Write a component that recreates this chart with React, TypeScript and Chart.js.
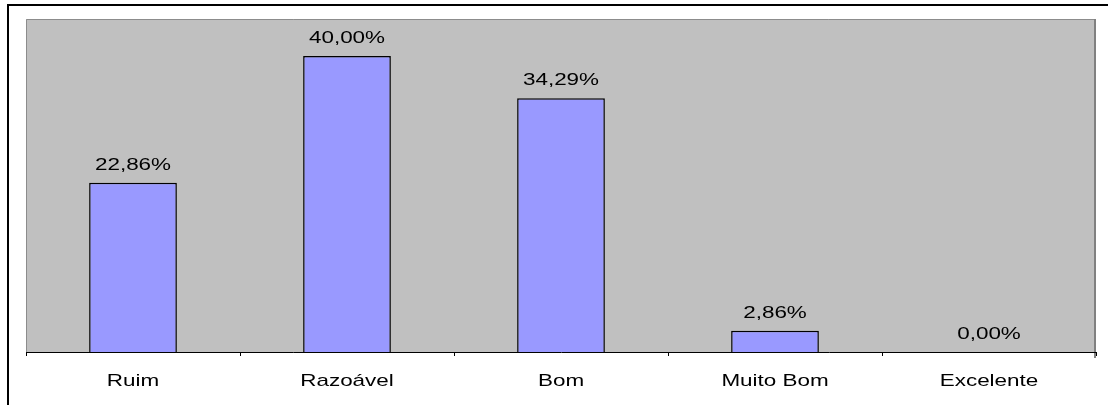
import React, { useEffect, useRef } from "react";
import { Chart, registerables } from "chart.js";

Chart.register(...registerables);

const categories = ["Ruim", "Razoável", "Bom", "Muito Bom", "Excelente"];
const percentages = [22.86, 40.0, 34.29, 2.86, 0.0];

const fmt = (v: number) => v.toFixed(2).replace(".", ",") + "%";

const FONT = "17px 'Liberation Sans', Arial, sans-serif";
const STRETCH = 1.32;

function stretchedText(ctx: CanvasRenderingContext2D, text: string, x: number, y: number) {
  ctx.save();
  ctx.translate(x, y);
  ctx.scale(STRETCH, 1);
  ctx.fillText(text, 0, 0);
  ctx.restore();
}

const framePlugin = {
  id: "frame",
  beforeDraw(chart: any) {
    const { ctx, chartArea } = chart;
    const { left, top, right, bottom } = chartArea;
    ctx.save();
    ctx.fillStyle = "#ffffff";
    ctx.fillRect(0, 0, chart.width, chart.height);
    // outer border
    ctx.strokeStyle = "#000000";
    ctx.lineWidth = 2;
    ctx.beginPath();
    ctx.moveTo(8, chart.height + 5);
    ctx.lineTo(8, 5);
    ctx.lineTo(chart.width + 5, 5);
    ctx.stroke();
    // plot background
    ctx.fillStyle = "#c0c0c0";
    ctx.fillRect(left, top, right - left, bottom - top);
    ctx.strokeStyle = "#8c8c8c";
    ctx.lineWidth = 1;
    ctx.beginPath();
    ctx.moveTo(left + 0.5, bottom);
    ctx.lineTo(left + 0.5, top + 0.5);
    ctx.lineTo(right - 0.5, top + 0.5);
    ctx.stroke();
    ctx.lineWidth = 2;
    ctx.strokeStyle = "#808080";
    ctx.beginPath();
    ctx.moveTo(right - 1, top);
    ctx.lineTo(right - 1, bottom + 6);
    ctx.stroke();
    ctx.restore();
  },
  afterDatasetsDraw(chart: any) {
    const { ctx } = chart;
    const meta = chart.getDatasetMeta(0);
    const data = chart.data.datasets[0].data as number[];
    ctx.save();
    ctx.fillStyle = "#000000";
    ctx.font = FONT;
    ctx.textAlign = "center";
    ctx.textBaseline = "alphabetic";
    meta.data.forEach((bar: any, i: number) => {
      stretchedText(ctx, fmt(data[i]), bar.x, bar.y - 13);
    });
    // category labels, positioned by the x scale
    const xs = chart.scales.x;
    xs.ticks.forEach((_t: any, i: number) => {
      const label = xs.getLabelForValue(i) as string;
      stretchedText(ctx, label, xs.getPixelForTick(i), xs.top + 34);
    });
    ctx.restore();
  },
};

export default function App() {
  const ref = useRef<HTMLCanvasElement | null>(null);
  useEffect(() => {
    if (!ref.current) return;
    const chart = new Chart(ref.current, {
      type: "bar",
      data: {
        labels: categories,
        datasets: [
          {
            data: percentages,
            backgroundColor: "#9999ff",
            borderColor: "#000000",
            borderWidth: (c: any) => (c.raw === 0 ? 0 : 1.5),
            barPercentage: 0.41,
            categoryPercentage: 1,
          },
        ],
      },
      options: {
        animation: false,
        responsive: false,
        maintainAspectRatio: false,
        layout: { padding: { left: 26, top: 19, right: 12, bottom: 13 } },
        plugins: {
          legend: { display: false },
          tooltip: { enabled: false },
          title: { display: false },
        },
        scales: {
          x: {
            offset: true,
            grid: {
              offset: true,
              drawOnChartArea: false,
              drawTicks: true,
              tickLength: 4,
              color: "#000000",
            },
            border: { display: true, color: "#000000", width: 1 },
            ticks: {
              color: "rgba(0,0,0,0)",
              padding: 15,
              maxRotation: 0,
              autoSkip: false,
              font: { family: "'Liberation Sans', Arial, sans-serif", size: 15 },
            },
            afterFit: (scale: any) => {
              scale.height = 40;
            },
          },
          y: {
            display: false,
            min: 0,
            max: 45,
          },
        },
      },
      plugins: [framePlugin],
    });
    return () => chart.destroy();
  }, []);
  return (
    <div style={{ position: "fixed", left: 0, top: 0, width: 1108, height: 405 }}>
      <canvas ref={ref} width={1108} height={405} style={{ display: "block" }} />
    </div>
  );
}
